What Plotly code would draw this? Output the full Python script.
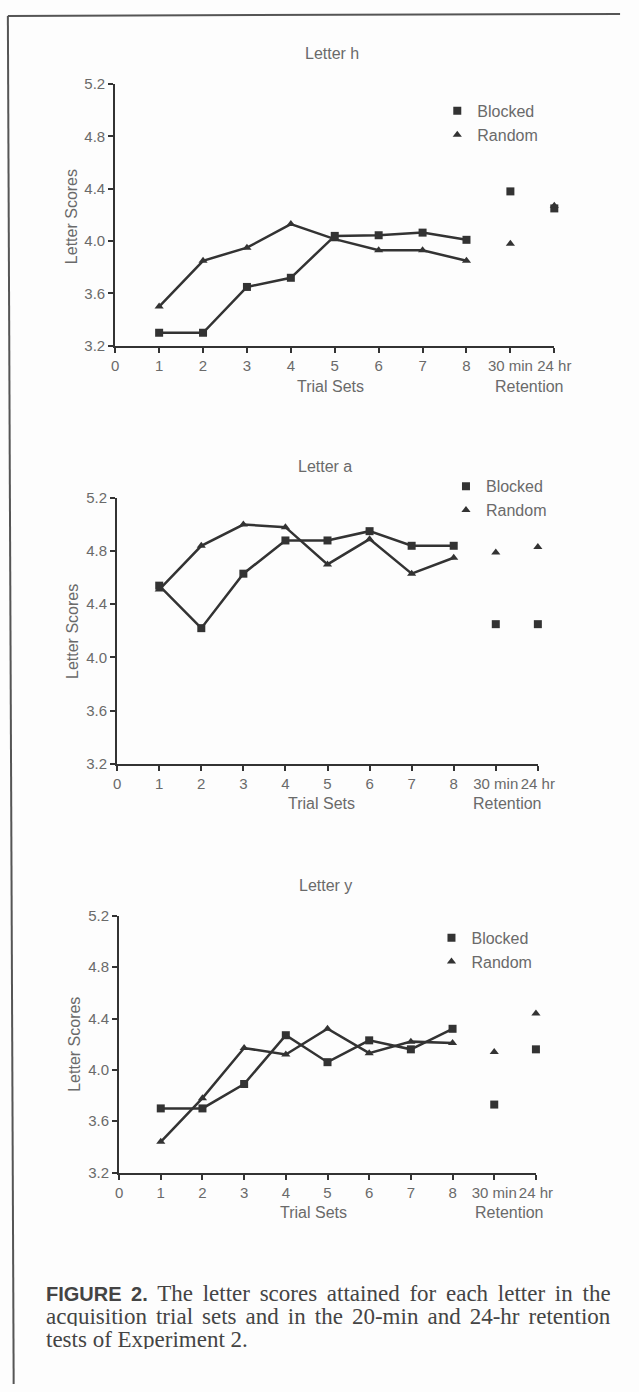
import plotly.graph_objects as go

W, H = 639, 1392

# ---------------- data ----------------
trial_sets = [1, 2, 3, 4, 5, 6, 7, 8]
retention_x = [9, 10]
x_tickvals = list(range(11))
x_ticktext = ["0", "1", "2", "3", "4", "5", "6", "7", "8", "30 min", "24 hr"]
y_tickvals = [3.2, 3.6, 4.0, 4.4, 4.8, 5.2]
y_ticktext = ["3.2", "3.6", "4.0", "4.4", "4.8", "5.2"]

h_blocked = [3.30, 3.30, 3.65, 3.72, 4.04, 4.045, 4.065, 4.01]
h_blocked_ret = [4.38, 4.25]
h_random = [3.50, 3.85, 3.95, 4.13, 4.015, 3.93, 3.93, 3.85]
h_random_ret = [3.98, 4.27]

a_blocked = [4.54, 4.22, 4.63, 4.88, 4.88, 4.95, 4.84, 4.84]
a_blocked_ret = [4.25, 4.25]
a_random = [4.51, 4.84, 5.00, 4.98, 4.70, 4.89, 4.63, 4.75]
a_random_ret = [4.79, 4.83]

y_blocked = [3.70, 3.70, 3.89, 4.27, 4.06, 4.23, 4.16, 4.32]
y_blocked_ret = [3.73, 4.16]
y_random = [3.44, 3.78, 4.17, 4.12, 4.32, 4.13, 4.22, 4.21]
y_random_ret = [4.14, 4.44]

panel_titles = ["Letter h", "Letter a", "Letter y"]
series_names = ["Blocked", "Random"]
caption_label = "FIGURE 2."
caption_lines = [
    "The letter scores attained for each letter in the",
    "acquisition trial sets and in the 20-min and 24-hr retention",
    "tests of Experiment 2.",
]

# ---------------- layout helpers ----------------
def px(xp):
    return xp / W

def py(yp):
    return 1 - yp / H

AX = "#333333"
TXT = "#6a6a6a"
SANS = "Liberation Sans, Arial, sans-serif"
SERIF = "Liberation Serif, Times New Roman, serif"

panels = [
    dict(blocked=h_blocked, blocked_ret=h_blocked_ret, random=h_random, random_ret=h_random_ret,
         x0=115, x1=569, ytop=76, ybot=341, title_xy=(339, 45), ytitle_xy=(70, 210),
         trial_x=4.9, ret_x=9.43, lab_y=382, leg=(448, 86)),
    dict(blocked=a_blocked, blocked_ret=a_blocked_ret, random=a_random, random_ret=a_random_ret,
         x0=117, x1=552, ytop=495, ybot=764, title_xy=(332, 463), ytitle_xy=(71, 630),
         trial_x=4.86, ret_x=9.29, lab_y=804, leg=(457, 466)),
    dict(blocked=y_blocked, blocked_ret=y_blocked_ret, random=y_random, random_ret=y_random_ret,
         x0=119, x1=550, ytop=918, ybot=1178, title_xy=(332, 887), ytitle_xy=(73, 1048),
         trial_x=4.66, ret_x=9.37, lab_y=1218, leg=(442, 923)),
]

fig = go.Figure()
annotations = []
layout_extra = {}

for i, p in enumerate(panels):
    n = "" if i == 0 else str(i + 1)
    xa, ya = "x" + n, "y" + n
    leg = "legend" + n
    # random first so that blocked squares sit on top
    fig.add_trace(go.Scatter(x=trial_sets, y=p["random"], xaxis=xa, yaxis=ya, mode="lines+markers",
                             line=dict(color=AX, width=2.5),
                             marker=dict(symbol="triangle-up", size=8, color=AX),
                             showlegend=False, cliponaxis=False))
    fig.add_trace(go.Scatter(x=trial_sets, y=p["blocked"], xaxis=xa, yaxis=ya, mode="lines+markers",
                             line=dict(color=AX, width=2.5),
                             marker=dict(symbol="square", size=8, color=AX),
                             showlegend=False, cliponaxis=False))
    fig.add_trace(go.Scatter(x=retention_x, y=p["blocked_ret"], xaxis=xa, yaxis=ya, mode="markers",
                             marker=dict(symbol="square", size=8, color=AX),
                             name=series_names[0], legend=leg, legendrank=1, cliponaxis=False))
    fig.add_trace(go.Scatter(x=retention_x, y=p["random_ret"], xaxis=xa, yaxis=ya, mode="markers",
                             marker=dict(symbol="triangle-up", size=8, color=AX),
                             name=series_names[1], legend=leg, legendrank=2, cliponaxis=False))

    common = dict(showgrid=False, zeroline=False, showline=True, linecolor=AX, linewidth=2,
                  ticks="outside", ticklen=5, tickwidth=2, tickcolor=AX,
                  tickfont=dict(family=SANS, size=15, color=TXT), fixedrange=True)
    layout_extra["xaxis" + n] = dict(common, domain=[px(p["x0"]), px(p["x1"])], range=[0, 10],
                                     tickmode="array", tickvals=x_tickvals, ticktext=x_ticktext,
                                     tickangle=0, anchor=ya)
    layout_extra["yaxis" + n] = dict(common, domain=[py(p["ybot"]), py(p["ytop"])], range=[3.2, 5.2],
                                     tickmode="array", tickvals=y_tickvals, ticktext=y_ticktext,
                                     anchor=xa)
    layout_extra[leg] = dict(x=px(p["leg"][0]), y=py(p["leg"][1]), xanchor="left", yanchor="top",
                             bgcolor="rgba(0,0,0,0)", borderwidth=0,
                             font=dict(family=SANS, size=16, color=TXT), traceorder="normal")

    annotations.append(dict(text=panel_titles[i], x=px(p["title_xy"][0]), y=py(p["title_xy"][1]),
                            xref="paper", yref="paper", showarrow=False, xanchor="center", yanchor="middle",
                            font=dict(family=SANS, size=16, color=TXT)))
    annotations.append(dict(text="Letter Scores", x=px(p["ytitle_xy"][0]), y=py(p["ytitle_xy"][1]),
                            xref="paper", yref="paper", showarrow=False, textangle=-90,
                            xanchor="center", yanchor="middle",
                            font=dict(family=SANS, size=16, color=TXT)))
    annotations.append(dict(text="Trial Sets", x=p["trial_x"], xref=xa, y=py(p["lab_y"]), yref="paper",
                            showarrow=False, xanchor="center", yanchor="middle",
                            font=dict(family=SANS, size=16, color=TXT)))
    annotations.append(dict(text="Retention", x=p["ret_x"], xref=xa, y=py(p["lab_y"]), yref="paper",
                            showarrow=False, xanchor="center", yanchor="middle",
                            font=dict(family=SANS, size=16, color=TXT)))

# caption (justified look via word-spacing on the first two lines)
cap_y = [1300, 1323, 1346]
CAP = "#444444"
line1 = ('<span style="word-spacing:4px"><span style="font-family:Liberation Sans, Arial, sans-serif;'
         'font-size:20px;font-weight:bold">' + caption_label + '</span> ' + caption_lines[0] + '</span>')
line2 = '<span style="word-spacing:3.3px">' + caption_lines[1] + '</span>'
for txt, yy in zip([line1, line2, caption_lines[2]], cap_y):
    annotations.append(dict(text=txt, x=px(42), y=py(yy), xref="paper", yref="paper",
                            showarrow=False, xanchor="left", yanchor="middle",
                            height=20, valign="middle", borderpad=0,
                            font=dict(family=SERIF, size=23, color=CAP)))

shapes = [
    dict(type="line", xref="paper", yref="paper", x0=px(4), y0=py(7), x1=px(637), y1=py(5),
         line=dict(color="#555555", width=2)),
    dict(type="line", xref="paper", yref="paper", x0=px(4), y0=py(7), x1=px(10), y1=py(1392),
         line=dict(color="#555555", width=2)),
]

fig.update_layout(width=W, height=H, margin=dict(l=0, r=0, t=0, b=0),
                  paper_bgcolor="#fdfdfd", plot_bgcolor="rgba(0,0,0,0)",
                  annotations=annotations, shapes=shapes, **layout_extra)

fig.write_html("out.html", config={"displayModeBar": False},
               post_script=("document.documentElement.style.margin='0';"
                            "document.body.style.margin='0';"
                            "document.documentElement.style.overflow='hidden';"
                            "document.body.style.overflow='hidden';"))
